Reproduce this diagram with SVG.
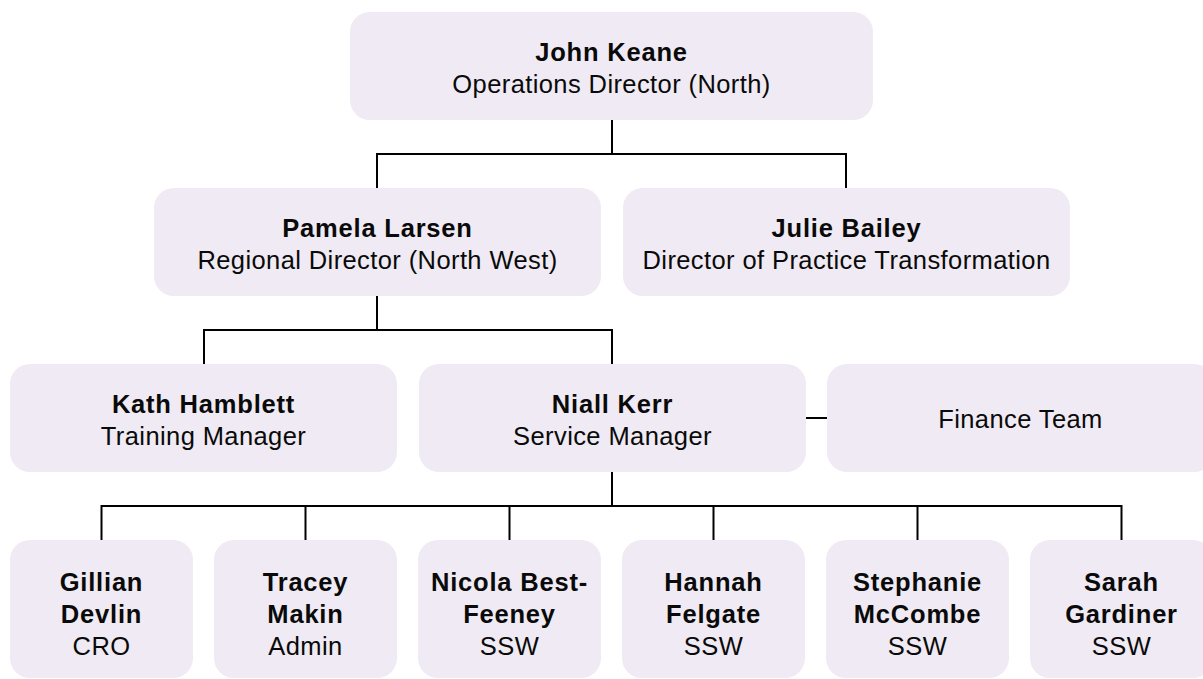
<svg xmlns="http://www.w3.org/2000/svg" width="1203" height="679" viewBox="0 0 1203 679">
<style>
.box{fill:#EFEAF3;}
text{font-family:"Liberation Sans",Arial,Helvetica,sans-serif;font-size:25.5px;letter-spacing:0.4px;fill:#0a0a0a;text-anchor:middle;}
.b{font-weight:bold;letter-spacing:0.8px;}
.conn{fill:none;stroke:#000;stroke-width:2;}
</style>
<rect width="1203" height="679" fill="#fff"/>
<g id="connectors" class="conn">
<path d="M612,120V154M377,188V154H846V188"/>
<path d="M377,296V330M204,364V330H612V364"/>
<path d="M806,418H827"/>
<path d="M612,472V506M101.5,540V506H1121.5V540M305.5,506V540M509.5,506V540M713.5,506V540M917.5,506V540"/>
</g>
<g id="john"><rect class="box" x="350" y="12" width="523" height="108" rx="20"/><text class="b" x="611.5" y="61">John Keane</text><text x="611.5" y="93">Operations Director (North)</text></g>
<g id="pamela"><rect class="box" x="154" y="188" width="447" height="108" rx="20"/><text class="b" x="377.5" y="237">Pamela Larsen</text><text x="377.5" y="269">Regional Director (North West)</text></g>
<g id="julie"><rect class="box" x="623" y="188" width="447" height="108" rx="20"/><text class="b" x="846.5" y="237">Julie Bailey</text><text x="846.5" y="269">Director of Practice Transformation</text></g>
<g id="kath"><rect class="box" x="10" y="364" width="387" height="108" rx="20"/><text class="b" x="203.5" y="413">Kath Hamblett</text><text x="203.5" y="445">Training Manager</text></g>
<g id="niall"><rect class="box" x="419" y="364" width="387" height="108" rx="20"/><text class="b" x="612.5" y="413">Niall Kerr</text><text x="612.5" y="445">Service Manager</text></g>
<g id="finance"><rect class="box" x="827" y="364" width="387" height="108" rx="20"/><text x="1020.5" y="428">Finance Team</text></g>
<g id="gillian"><rect class="box" x="10" y="540" width="183" height="138" rx="20"/><text class="b" x="101.5" y="591">Gillian</text><text class="b" x="101.5" y="623">Devlin</text><text x="101.5" y="655">CRO</text></g>
<g id="tracey"><rect class="box" x="214" y="540" width="183" height="138" rx="20"/><text class="b" x="305.5" y="591">Tracey</text><text class="b" x="305.5" y="623">Makin</text><text x="305.5" y="655">Admin</text></g>
<g id="nicola"><rect class="box" x="418" y="540" width="183" height="138" rx="20"/><text class="b" x="509.5" y="591">Nicola Best-</text><text class="b" x="509.5" y="623">Feeney</text><text x="509.5" y="655">SSW</text></g>
<g id="hannah"><rect class="box" x="622" y="540" width="183" height="138" rx="20"/><text class="b" x="713.5" y="591">Hannah</text><text class="b" x="713.5" y="623">Felgate</text><text x="713.5" y="655">SSW</text></g>
<g id="stephanie"><rect class="box" x="826" y="540" width="183" height="138" rx="20"/><text class="b" x="917.5" y="591">Stephanie</text><text class="b" x="917.5" y="623">McCombe</text><text x="917.5" y="655">SSW</text></g>
<g id="sarah"><rect class="box" x="1030" y="540" width="183" height="138" rx="20"/><text class="b" x="1121.5" y="591">Sarah</text><text class="b" x="1121.5" y="623">Gardiner</text><text x="1121.5" y="655">SSW</text></g>
</svg>
